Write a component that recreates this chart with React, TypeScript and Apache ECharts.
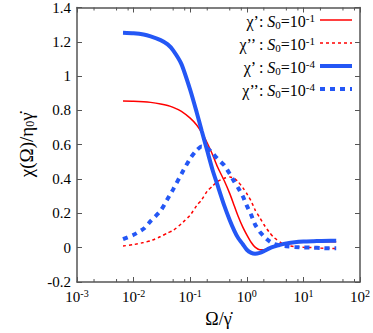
import React, { useEffect, useRef } from 'react';
import * as echarts from 'echarts';

// Ω/γ̇ sample points (shared by all four curves)
const omega = [0.0065, 0.01, 0.015, 0.02, 0.03, 0.04, 0.05, 0.07, 0.1, 0.13, 0.16, 0.2, 0.25, 0.3, 0.4, 0.5, 0.6, 0.7, 0.85, 1.0, 1.2, 1.4, 1.7, 2.0, 2.5, 3, 4, 5, 7, 10, 15, 20, 30, 38];

// χ' , S0 = 1e-1
const chiReal_S1 = [0.855, 0.854, 0.851, 0.847, 0.838, 0.829, 0.818, 0.795, 0.755, 0.715, 0.67, 0.61, 0.54, 0.475, 0.39, 0.315, 0.245, 0.185, 0.12, 0.075, 0.03, 0.003, -0.012, -0.012, -0.004, 0.004, 0.015, 0.022, 0.028, 0.031, 0.033, 0.034, 0.035, 0.035];
// χ'' , S0 = 1e-1
const chiImag_S1 = [0.01, 0.018, 0.03, 0.04, 0.065, 0.086, 0.10, 0.14, 0.19, 0.245, 0.28, 0.33, 0.36, 0.385, 0.405, 0.412, 0.405, 0.385, 0.35, 0.315, 0.27, 0.22, 0.175, 0.135, 0.09, 0.06, 0.03, 0.014, 0.006, 0.002, 0.0, -0.002, -0.004, -0.005];
// χ' , S0 = 1e-4
const chiReal_S4 = [1.253, 1.25, 1.243, 1.232, 1.21, 1.185, 1.15, 1.07, 0.92, 0.79, 0.68, 0.565, 0.45, 0.37, 0.245, 0.16, 0.10, 0.058, 0.02, -0.012, -0.03, -0.035, -0.03, -0.02, -0.004, 0.006, 0.018, 0.025, 0.032, 0.036, 0.038, 0.039, 0.04, 0.04];
// χ'' , S0 = 1e-4
const chiImag_S4 = [0.05, 0.075, 0.11, 0.155, 0.215, 0.285, 0.34, 0.43, 0.52, 0.568, 0.59, 0.58, 0.55, 0.52, 0.48, 0.43, 0.385, 0.35, 0.30, 0.245, 0.19, 0.135, 0.092, 0.066, 0.038, 0.022, 0.012, 0.008, 0.004, 0.002, 0.0, -0.002, -0.004, -0.004];

const yMin = -0.2;
const yMax = 1.4;
const yStep = 0.2;
const xMin = 0.001;
const xMax = 100;
const minorMantissas = [2, 5, 8];
const decades = [-3, -2, -1, 0, 1];

const legendEntries = [
  { prime: 'χ’: ', exp: '-1' },
  { prime: 'χ’’ : ', exp: '-1' },
  { prime: 'χ’ : ', exp: '-4' },
  { prime: 'χ’’: ', exp: '-4' },
];

const RED = '#ff0000';
const BLUE = '#2457f5';
const FONT = "'Liberation Serif', 'Times New Roman', serif";
const AXIS = '#555555';

export default function App() {
  const ref = useRef<HTMLDivElement>(null);

  useEffect(() => {
    const chart = echarts.init(ref.current!, null, { renderer: 'svg' });
    const pair = (ys: number[]) => omega.map((x, i) => [x, ys[i]]);

    const supRich = {
      sup: { fontSize: 10, fontFamily: FONT, color: '#000', verticalAlign: 'top', padding: [0, 0, 7, 0] },
    };

    const styles = [
      { data: chiReal_S1, color: RED, width: 1.5, type: 'solid' as any },
      { data: chiImag_S1, color: RED, width: 1.5, type: [3, 3] as any },
      { data: chiReal_S4, color: BLUE, width: 4, type: 'solid' as any },
      { data: chiImag_S4, color: BLUE, width: 4, type: [5, 5] as any },
    ];

    const commonX = {
      type: 'log',
      logBase: 10,
      min: xMin,
      max: xMax,
      splitLine: { show: false },
      minorTick: { show: false },
      axisLine: { show: true, onZero: false, lineStyle: { color: AXIS, width: 1.5 } },
      axisTick: { show: true, inside: true, length: 5, lineStyle: { color: AXIS, width: 1 } },
    };
    const commonY = {
      type: 'value',
      min: yMin,
      max: yMax,
      interval: yStep,
      splitLine: { show: false },
      axisLine: { show: true, onZero: false, lineStyle: { color: AXIS, width: 1.5 } },
      axisTick: { show: true, inside: true, length: 5, lineStyle: { color: AXIS, width: 1 } },
    };

    chart.setOption({
      animation: false,
      textStyle: { fontFamily: FONT },
      grid: { left: 77, right: 11, top: 7, bottom: 41, containLabel: false },
      xAxis: [
        {
          ...commonX,
          position: 'bottom',
          axisLabel: {
            color: '#000',
            fontFamily: FONT,
            fontSize: 15,
            margin: 6,
            formatter: (v: number) => '10{sup|' + Math.round(Math.log10(v)) + '}',
            rich: supRich,
          },
          name: 'Ω/{g|γ̇}',
          nameLocation: 'middle',
          nameGap: 28,
          nameTextStyle: {
            fontFamily: FONT,
            fontSize: 18,
            color: '#000',
            rich: { g: { fontFamily: FONT, fontSize: 18, color: '#000' } },
          },
        },
        {
          ...commonX,
          position: 'top',
          axisLabel: { show: false },
        },
      ],
      yAxis: [
        {
          ...commonY,
          position: 'left',
          axisLabel: { color: '#000', fontFamily: FONT, fontSize: 15, margin: 6 },
          name: 'χ(Ω)/η{sub|0}{g|γ̇}',
          nameLocation: 'middle',
          nameRotate: 90,
          nameGap: 40,
          nameTextStyle: {
            fontFamily: FONT,
            fontSize: 19,
            color: '#000',
            rich: {
              sub: { fontFamily: FONT, fontSize: 12, color: '#000', verticalAlign: 'bottom', padding: [6, 0, 0, 0] },
              g: { fontFamily: FONT, fontSize: 19, color: '#000' },
            },
          },
        },
        {
          ...commonY,
          position: 'right',
          axisLabel: { show: false },
        },
      ],
      series: styles.map((s) => ({
        type: 'line',
        xAxisIndex: 0,
        yAxisIndex: 0,
        data: pair(s.data),
        showSymbol: false,
        symbol: 'none',
        smooth: 0.2,
        lineStyle: { color: s.color, width: s.width, type: s.type },
        z: 2,
      })),
    });

    // minor ticks and legend drawn with graphic elements, positioned from the axis scales
    const yBottom = chart.convertToPixel({ yAxisIndex: 0 }, yMin) as number;
    const yTop = chart.convertToPixel({ yAxisIndex: 0 }, yMax) as number;
    const graphics: any[] = [];
    decades.forEach((d) => {
      minorMantissas.forEach((m) => {
        const px = chart.convertToPixel({ xAxisIndex: 0 }, m * Math.pow(10, d)) as number;
        graphics.push({
          type: 'line',
          shape: { x1: px, y1: yBottom, x2: px, y2: yBottom - 3 },
          style: { stroke: AXIS, lineWidth: 1 },
          z: 5,
        });
        graphics.push({
          type: 'line',
          shape: { x1: px, y1: yTop, x2: px, y2: yTop + 3 },
          style: { stroke: AXIS, lineWidth: 1 },
          z: 5,
        });
      });
    });

    const legendY = [20, 43, 66, 89];
    legendEntries.forEach((e, i) => {
      const s = styles[i];
      graphics.push({
        type: 'text',
        x: 315,
        y: legendY[i] + 1,
        z: 10,
        style: {
          text: e.prime + '{i|S}{sub|0}=10{sup|' + e.exp + '}',
          fill: '#000',
          fontFamily: FONT,
          fontSize: 16,
          align: 'right',
          verticalAlign: 'middle',
          rich: {
            i: { fontFamily: FONT, fontSize: 16, fontStyle: 'italic', fill: '#000' },
            sub: { fontFamily: FONT, fontSize: 11, fill: '#000', verticalAlign: 'bottom', padding: [7, 0, 0, 0] },
            sup: { fontFamily: FONT, fontSize: 11, fill: '#000', verticalAlign: 'top', padding: [0, 0, 7, 0] },
          },
        },
      });
      graphics.push({
        type: 'line',
        z: 10,
        shape: { x1: 320, y1: legendY[i], x2: 352, y2: legendY[i] },
        style: {
          stroke: s.color,
          lineWidth: s.width,
          lineDash: Array.isArray(s.type) ? s.type : null,
        },
      });
    });

    chart.setOption({ graphic: graphics });

    return () => chart.dispose();
  }, []);

  return (
    <div
      ref={ref}
      style={{ position: 'fixed', left: 0, top: 0, width: 373, height: 333, background: '#fff' }}
    />
  );
}
